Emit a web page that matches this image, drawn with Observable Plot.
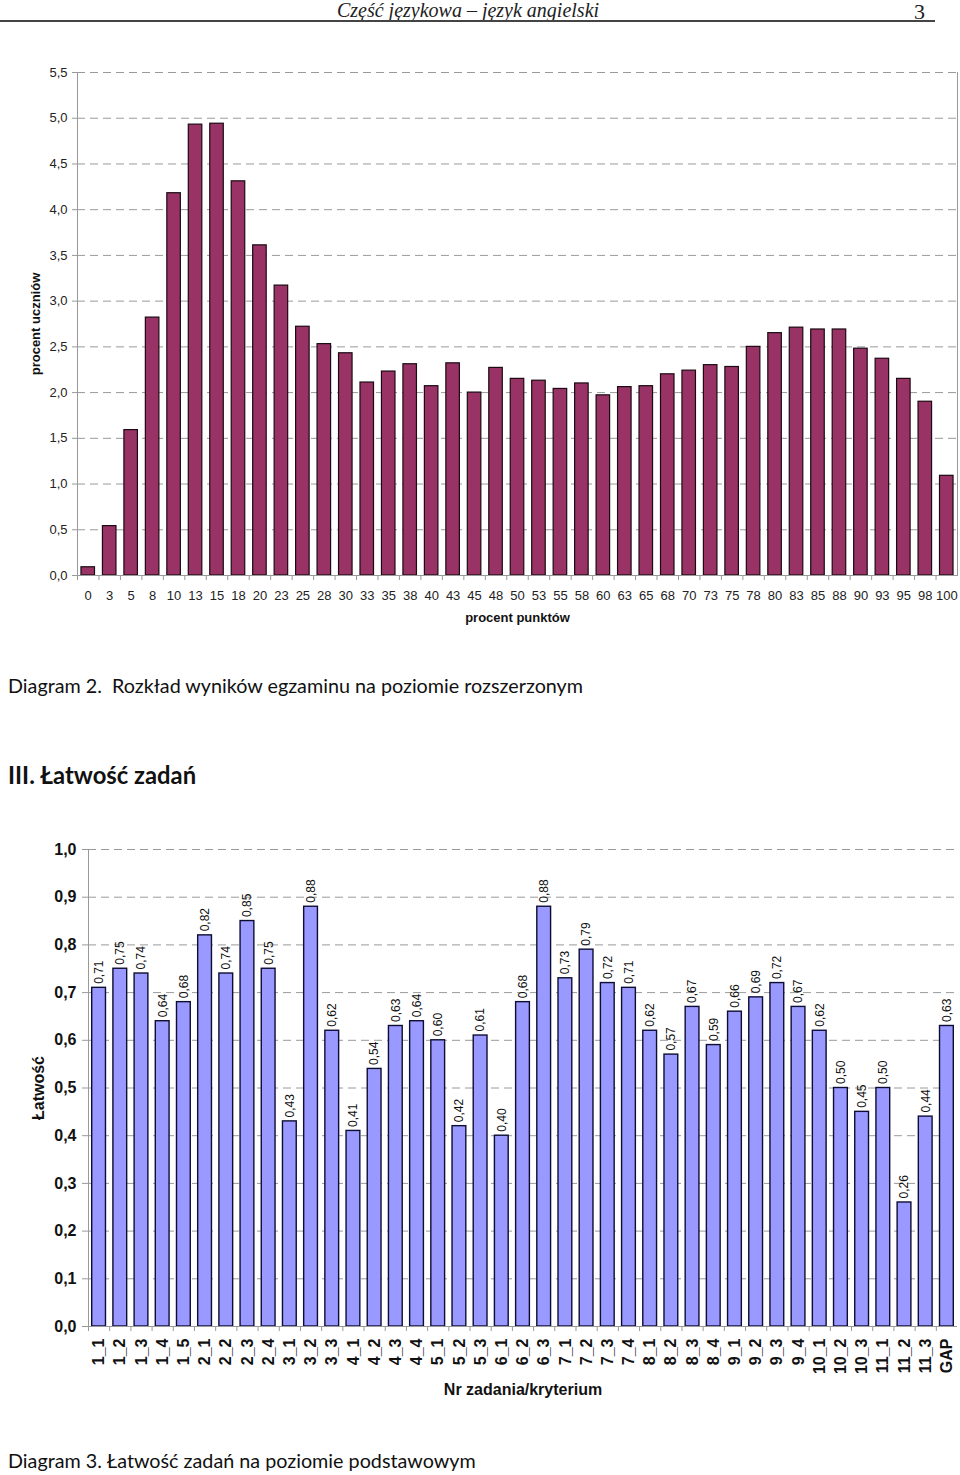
<!DOCTYPE html>
<html><head><meta charset="utf-8">
<script src="https://cdn.jsdelivr.net/npm/d3@7"></script>
<script src="https://cdn.jsdelivr.net/npm/@observablehq/plot@0.6"></script>
<style>
body{margin:0;background:#fff;}
#page{position:relative;width:960px;height:1475px;overflow:hidden;font-family:Arial,"Liberation Sans",sans-serif;background:#fff;}
.abs{position:absolute;white-space:nowrap;line-height:1.15;}
#chart1,#chart2{position:absolute;left:0;}
#chart1{top:40px;}
#chart2{top:820px;}
</style></head><body>
<div id="page">
  <div class="abs" id="hdr" style="left:0;width:936px;top:0;line-height:1;text-align:center;font-family:'Liberation Serif',serif;font-style:italic;font-size:20px;color:#222;">Część językowa – język angielski</div>
  <div class="abs" style="left:914px;top:1px;line-height:1;font-family:'Liberation Serif',serif;font-size:22px;color:#222;">3</div>
  <div class="abs" style="left:0;top:20px;width:935px;height:2px;background:#444;"></div>
  <div id="chart1"></div>
  <div class="abs" id="cap2" style="left:8px;top:675px;font-family:Lato,'Open Sans',sans-serif;font-size:19.75px;color:#111;">Diagram 2.&nbsp; Rozkład wyników egzaminu na poziomie rozszerzonym</div>
  <div class="abs" id="sec3" style="left:8px;top:762px;font-family:Lato,'Open Sans',sans-serif;font-weight:bold;font-size:23.8px;color:#111;">III. Łatwość zadań</div>
  <div id="chart2"></div>
  <div class="abs" id="cap3" style="left:8px;top:1450px;font-family:Lato,'Open Sans',sans-serif;font-size:19.75px;color:#111;">Diagram 3. Łatwość zadań na poziomie podstawowym</div>
</div>
<script>
// ---- Diagram 2 data ----
const scoreCategories = ["0","3","5","8","10","13","15","18","20","23","25","28","30","33","35","38","40","43","45","48","50","53","55","58","60","63","65","68","70","73","75","78","80","83","85","88","90","93","95","98","100"];
const studentPercent = [0.09,0.54,1.59,2.82,4.18,4.93,4.94,4.31,3.61,3.17,2.72,2.53,2.43,2.11,2.23,2.31,2.07,2.32,2.00,2.27,2.15,2.13,2.04,2.10,1.97,2.06,2.07,2.20,2.24,2.30,2.28,2.50,2.65,2.71,2.69,2.69,2.48,2.37,2.15,1.90,1.09];
const yTicksTop = [0,0.5,1,1.5,2,2.5,3,3.5,4,4.5,5,5.5];

// ---- Diagram 3 data ----
const taskCategories = ["1_1","1_2","1_3","1_4","1_5","2_1","2_2","2_3","2_4","3_1","3_2","3_3","4_1","4_2","4_3","4_4","5_1","5_2","5_3","6_1","6_2","6_3","7_1","7_2","7_3","7_4","8_1","8_2","8_3","8_4","9_1","9_2","9_3","9_4","10_1","10_2","10_3","11_1","11_2","11_3","GAP"];
const taskEasiness = [0.71,0.75,0.74,0.64,0.68,0.82,0.74,0.85,0.75,0.43,0.88,0.62,0.41,0.54,0.63,0.64,0.60,0.42,0.61,0.40,0.68,0.88,0.73,0.79,0.72,0.71,0.62,0.57,0.67,0.59,0.66,0.69,0.72,0.67,0.62,0.50,0.45,0.50,0.26,0.44,0.63];
const yTicksBottom = [0,0.1,0.2,0.3,0.4,0.5,0.6,0.7,0.8,0.9,1.0];

const fmt1 = d => d.toFixed(1).replace(".", ",");
const fmt2 = d => d.toFixed(2).replace(".", ",");
const gridStyle = {stroke: "#9a9a9a", strokeOpacity: 1, strokeDasharray: "8,5"};

const distData = scoreCategories.map((s, i) => ({score: s, pct: studentPercent[i]}));
const taskData = taskCategories.map((t, i) => ({task: t, easiness: taskEasiness[i]}));

// Chart 1
const m1 = {top: 32, bottom: 65, left: 77, right: 3};
const bw1 = (960 - m1.left - m1.right) / scoreCategories.length;
const chart1 = Plot.plot({
  width: 960, height: 600,
  marginTop: m1.top, marginBottom: m1.bottom, marginLeft: m1.left, marginRight: m1.right,
  style: {fontFamily: "Arial, 'Liberation Sans', sans-serif", fontSize: "13px", color: "#222", background: "transparent", overflow: "visible"},
  x: {domain: scoreCategories, paddingInner: 0.37, paddingOuter: 0.185, round: false, label: null},
  y: {domain: [0, 5.5], label: null},
  marks: [
    Plot.gridY(yTicksTop.slice(1), gridStyle),
    Plot.barY(distData, {x: "score", y: "pct", fill: "#993366", stroke: "#1a0a12", strokeWidth: 1.2}),
    Plot.frame({anchor: "left", stroke: "#999"}),
    Plot.frame({anchor: "right", stroke: "#999"}),
    Plot.ruleY([0], {stroke: "#999"}),
    Plot.axisY({ticks: yTicksTop, tickFormat: fmt1, tickSize: 5, tickPadding: 5, stroke: "#999", label: null, fontSize: 13}),
    Plot.axisX({tickSize: 0, tickPadding: 15, label: null, fontSize: 13}),
    Plot.axisX({tickSize: 5, tickFormat: () => "", dx: -bw1 / 2, stroke: "#999", label: null}),
    Plot.text(["procent punktów"], {frameAnchor: "bottom", dy: 42, lineAnchor: "middle", textAnchor: "middle", fontWeight: "bold", fontSize: 13, fill: "#111"}),
    Plot.text(["procent uczniów"], {frameAnchor: "left", dx: -42, rotate: -90, textAnchor: "middle", lineAnchor: "middle", fontWeight: "bold", fontSize: 13, fill: "#111"})
  ]
});
document.getElementById("chart1").appendChild(chart1);

// Chart 2
const m2 = {top: 29, bottom: 94, left: 88, right: 3};
const bw2 = (960 - m2.left - m2.right) / taskCategories.length;
const chart2 = Plot.plot({
  width: 960, height: 600,
  marginTop: m2.top, marginBottom: m2.bottom, marginLeft: m2.left, marginRight: m2.right,
  style: {fontFamily: "Arial, 'Liberation Sans', sans-serif", fontSize: "16px", color: "#111", background: "transparent", overflow: "visible"},
  x: {domain: taskCategories, paddingInner: 0.35, paddingOuter: 0.175, round: false, label: null},
  y: {domain: [0, 1], label: null},
  marks: [
    Plot.gridY(yTicksBottom.slice(1), gridStyle),
    Plot.barY(taskData, {x: "task", y: "easiness", fill: "#9999ff", stroke: "#0d0d33", strokeWidth: 1.4}),
    Plot.text(taskData, {x: "task", y: "easiness", text: d => fmt2(d.easiness), rotate: -90, textAnchor: "start", dy: -4, fontSize: 12, fill: "#111"}),
    Plot.frame({anchor: "left", stroke: "#999"}),
    Plot.ruleY([0], {stroke: "#999"}),
    Plot.axisY({ticks: yTicksBottom, tickFormat: fmt1, tickSize: 6, tickPadding: 6, stroke: "#999", label: null, fontWeight: "bold", fontSize: 16}),
    Plot.axisX({tickSize: 0, tickPadding: 12, tickRotate: -90, label: null, fontWeight: "bold", fontSize: 16}),
    Plot.axisX({tickSize: 5, tickFormat: () => "", dx: -bw2 / 2, stroke: "#999", label: null}),
    Plot.text(["Nr zadania/kryterium"], {frameAnchor: "bottom", dy: 63, lineAnchor: "middle", textAnchor: "middle", fontWeight: "bold", fontSize: 16, fill: "#111"}),
    Plot.text(["Łatwość"], {frameAnchor: "left", dx: -50, rotate: -90, textAnchor: "middle", lineAnchor: "middle", fontWeight: "bold", fontSize: 16, fill: "#111"})
  ]
});
document.getElementById("chart2").appendChild(chart2);
</script>
</body></html>
